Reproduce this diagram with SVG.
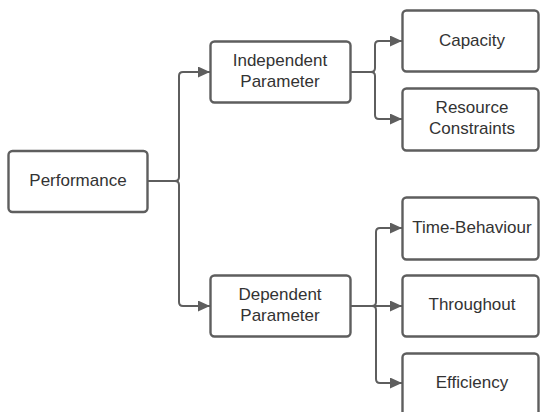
<svg xmlns="http://www.w3.org/2000/svg" width="540" height="412" viewBox="0 0 540 412">
<style>
.box{fill:#ffffff;stroke:#5e5e5e;stroke-width:2.4}
.lbl{font-family:"Liberation Sans",Arial,sans-serif;font-size:17px;fill:#333333;text-anchor:middle}
.conn{fill:none;stroke:#5e5e5e;stroke-width:2}
</style>
<defs>
<marker id="arr" markerUnits="userSpaceOnUse" markerWidth="14" markerHeight="12" refX="12" refY="5.5" orient="auto">
<path d="M0,0 L12,5.5 L0,11 Z" fill="#5e5e5e"/>
</marker>
</defs>
<rect width="540" height="412" fill="#ffffff"/>
<g id="connectors">
<path class="conn" marker-end="url(#arr)" d="M148,181 H175 Q179,181 179,177 V76 Q179,72 183,72 H210"/>
<path class="conn" marker-end="url(#arr)" d="M148,181 H175 Q179,181 179,185 V302 Q179,306 183,306 H210"/>
<path class="conn" marker-end="url(#arr)" d="M350,72 H371 Q375,72 375,68 V45 Q375,41 379,41 H402"/>
<path class="conn" marker-end="url(#arr)" d="M350,72 H371 Q375,72 375,76 V115 Q375,119 379,119 H402"/>
<path class="conn" marker-end="url(#arr)" d="M350,306 H372 Q376,306 376,302 V232 Q376,228 380,228 H402"/>
<path class="conn" marker-end="url(#arr)" d="M350,306 H402"/>
<path class="conn" marker-end="url(#arr)" d="M350,306 H372 Q376,306 376,310 V379 Q376,383 380,383 H402"/>
</g>
<g id="performance">
<rect class="box" x="8.5" y="151" width="139" height="61" rx="4"/>
<text class="lbl" x="78" y="186">Performance</text>
</g>
<g id="independent">
<rect class="box" x="210.5" y="41.5" width="140" height="61" rx="4"/>
<text class="lbl" x="280" y="66">Independent</text>
<text class="lbl" x="280" y="87">Parameter</text>
</g>
<g id="dependent">
<rect class="box" x="210.5" y="275.5" width="140" height="61" rx="4"/>
<text class="lbl" x="280" y="300">Dependent</text>
<text class="lbl" x="280" y="321">Parameter</text>
</g>
<g id="capacity">
<rect class="box" x="402.5" y="10.5" width="136" height="61" rx="4"/>
<text class="lbl" x="472" y="46">Capacity</text>
</g>
<g id="resource">
<rect class="box" x="402.5" y="88.5" width="136" height="62" rx="4"/>
<text class="lbl" x="472" y="113">Resource</text>
<text class="lbl" x="472" y="134">Constraints</text>
</g>
<g id="time">
<rect class="box" x="402.5" y="197.5" width="136" height="62" rx="4"/>
<text class="lbl" x="472" y="233">Time-Behaviour</text>
</g>
<g id="throughout">
<rect class="box" x="402.5" y="275.5" width="136" height="61" rx="4"/>
<text class="lbl" x="472" y="310">Throughout</text>
</g>
<g id="efficiency">
<rect class="box" x="402.5" y="353.5" width="136" height="70" rx="4"/>
<text class="lbl" x="472" y="388">Efficiency</text>
</g>
</svg>
